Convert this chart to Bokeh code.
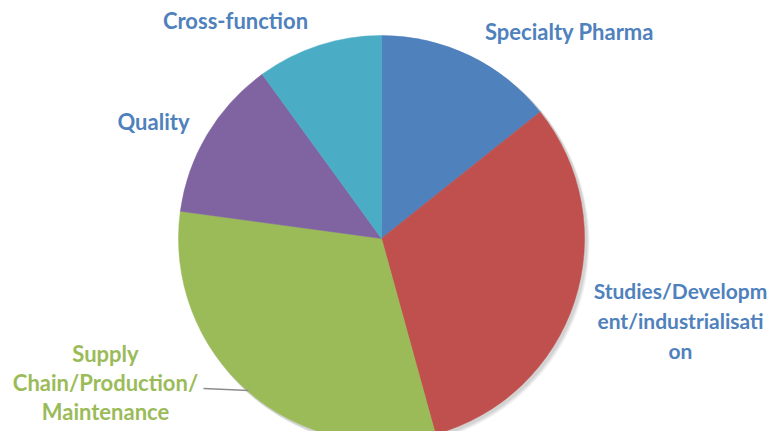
import math
from bokeh.plotting import figure
from bokeh.models import Range1d
from bokeh.core.properties import value
from bokeh.embed import file_html
from bokeh.resources import INLINE

categories = ["Specialty Pharma", "Studies/Development/industrialisation",
              "Supply Chain/Production/Maintenance", "Quality", "Cross-function"]
values = [10, 22, 22, 9, 7]
colors = ["#4F81BD", "#C0504D", "#9BBB59", "#8064A2", "#4BACC6"]

label_lines = [["Specialty Pharma"],
               ["Studies/Developm", "ent/industrialisati", "on"],
               ["Supply", "Chain/Production/", "Maintenance"],
               ["Quality"],
               ["Cross-function"]]
label_colors = ["#4F81BD", "#4F81BD", "#9BBB59", "#4F81BD", "#4F81BD"]
# label anchor (screen px, centre of first line)
label_pos = [(569, 31), (680, 290), (105, 353), (153, 121), (235, 20)]
line_gap = [0, 30, 29, 0, 0]
label_size = ["22px", "21px", "22px", "22px", "22px"]

W, H = 771, 431
H_IMG = 439

def sy(y):
    return H_IMG - y

p = figure(width=W, height=H, output_backend="svg", toolbar_location=None,
           x_range=Range1d(0, W), y_range=Range1d(H_IMG - H, H_IMG),
           min_border=0)
p.axis.visible = False
p.grid.visible = False
p.outline_line_color = None
p.background_fill_color = "white"

cx, cy, r = 381, sy(238), 203

# soft shadow
for dx, dy, a in [(4, -4, 0.05), (3, -3, 0.06), (2, -2, 0.07)]:
    p.circle(x=[cx + dx], y=[cy + dy], radius=r + 1, fill_color="black",
             fill_alpha=a, line_color=None)

total = sum(values)
start = math.pi / 2
for v, c in zip(values, colors):
    span = 2 * math.pi * v / total
    end = start - span
    p.wedge(x=[cx], y=[cy], radius=r, start_angle=end, end_angle=start,
            direction="anticlock", fill_color=c, line_color=c, line_width=0.5)
    start = end

# leader line for Supply Chain label
p.line(x=[203, 248], y=[sy(388), sy(390)], line_color="#8c8c8c", line_width=1.5)

for lines, col, (lx, ly), gap, fs in zip(label_lines, label_colors, label_pos,
                                         line_gap, label_size):
    xs = [lx] * len(lines)
    ys = [sy(ly + i * gap) for i in range(len(lines))]
    p.text(x=xs, y=ys, text=lines, text_color=col, text_font=value("Lato"),
           text_font_style="bold", text_font_size=fs,
           text_align="center", text_baseline="middle")

open("out.html", "w").write(file_html(p, INLINE))
